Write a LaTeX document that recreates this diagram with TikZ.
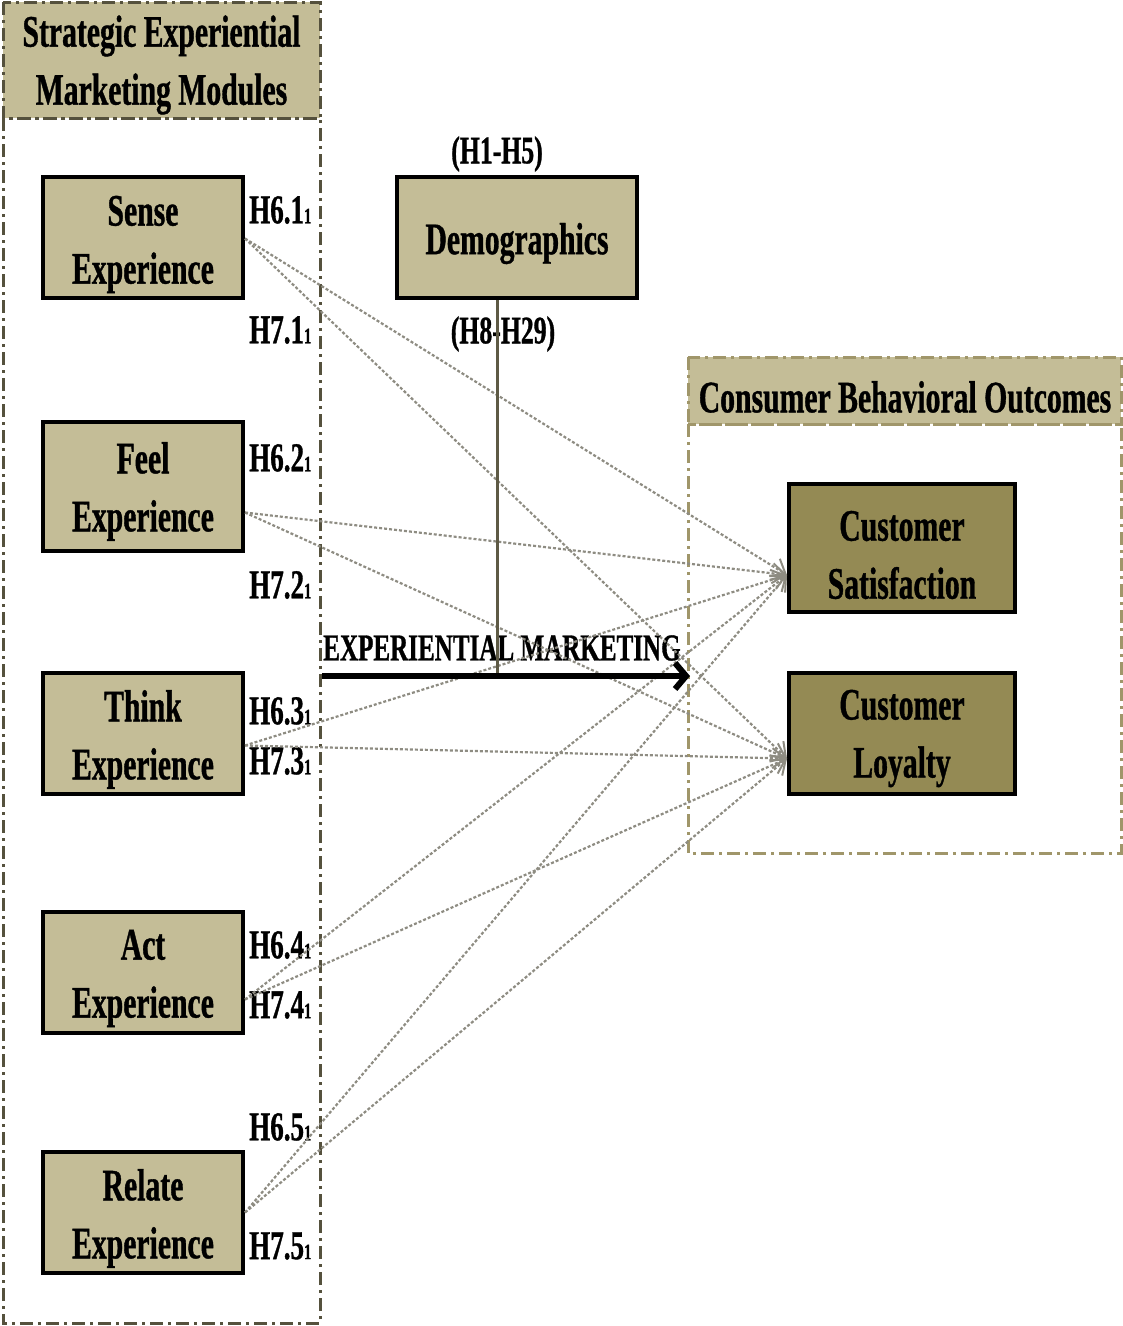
\documentclass[tikz,border=0pt]{standalone}
\usepackage{fontspec}
\setmainfont{Liberation Serif}[FakeStretch=0.66, BoldFeatures={FakeBold=0.8}]
\usetikzlibrary{arrows.meta}
\definecolor{tanfill}{HTML}{C4BD97}
\definecolor{olivefill}{HTML}{948A54}
\definecolor{leftframe}{HTML}{55513D}
\definecolor{rightframe}{HTML}{A0966A}
\definecolor{linkgray}{HTML}{8E8C82}
\definecolor{demoline}{HTML}{5E5A45}
\newcommand\diagboxfont{\fontsize{45}{58}\selectfont\bfseries}
\newcommand\diaglabfont{\fontsize{41}{44}\selectfont\bfseries}
\newcommand\diagsubfont{\fontsize{22}{24}\selectfont\bfseries}
\begin{document}
\begin{tikzpicture}[x=1pt,y=-1pt,
  dashdot/.style={line width=3pt, dash pattern=on 13pt off 5pt on 3pt off 5pt},
  modulebox/.style={draw=black, line width=4pt, fill=tanfill, minimum width=200pt,
    minimum height=121pt, inner sep=0pt},
  outcomebox/.style={modulebox, fill=olivefill, minimum width=226pt},
  boxtext/.style={inner sep=0pt, align=center, font=\diagboxfont},
  hlab/.style={anchor=west, inner sep=0pt, font=\diaglabfont},
  grouptitle/.style={inner sep=0pt, align=center, font=\diagboxfont},
  link/.style={draw=linkgray, line width=2.2pt, dash pattern=on 3pt off 2pt,
    -{Straight Barb[length=13pt,width=20pt,line width=2pt]}}
]
\useasboundingbox (0,0) rectangle (1123,1326);

% strategic experiential marketing modules group
\draw[dashdot, draw=leftframe, fill=tanfill] (3,2) rectangle (320,118);
\draw[dashdot, draw=leftframe] (3,118) rectangle (320,1323);
\node[grouptitle] (semm) at (161.5,65) {Strategic Experiential\\Marketing Modules};

% consumer behavioral outcomes group
\draw[dashdot, draw=rightframe, fill=tanfill] (688,357) rectangle (1121,424);
\draw[dashdot, draw=rightframe] (688,424) rectangle (1121,853);
\node[grouptitle] (cbo) at (905,397) {Consumer Behavioral Outcomes};

% modules
\node[modulebox] (sense)  at (143,237.5)  {};
\node[modulebox, minimum height=129pt] (feel) at (143,486.5) {};
\node[modulebox] (think)  at (143,733.5)  {};
\node[modulebox] (act)    at (143,972.5)  {};
\node[modulebox] (relate) at (143,1212.5) {};
\node[boxtext] (sense-t)  at ([yshift=-7pt]sense)  {Sense\\Experience};
\node[boxtext] (feel-t)   at ([yshift=-5pt]feel)   {Feel\\Experience};
\node[boxtext] (think-t)  at ([yshift=-6pt]think)  {Think\\Experience};
\node[boxtext] (act-t)    at ([yshift=-6pt]act)    {Act\\Experience};
\node[boxtext] (relate-t) at ([yshift=-6pt]relate) {Relate\\Experience};

% outcomes
\node[outcomebox, minimum height=128pt] (sat) at (902,548) {};
\node[outcomebox] (loy) at (902,733.5) {};
\node[boxtext] (sat-t) at ([yshift=-7pt]sat) {Customer\\Satisfaction};
\node[boxtext] (loy-t) at ([yshift=-5pt]loy) {Customer\\Loyalty};

% demographics
\node[modulebox, minimum width=240pt] (demo) at (517,237.5) {};
\node[boxtext] (demo-t) at ([yshift=-6pt]demo) {Demographics};
\node[inner sep=0pt, font=\fontsize{39}{42}\selectfont\bfseries] (h15) at (497,154) {(H1-H5)};
\node[inner sep=0pt, font=\fontsize{39}{42}\selectfont\bfseries] (h829) at (503,334) {(H8-H29)};

% hypothesis labels
\node[hlab] (h61) at (249,210)  {H6.1{\diagsubfont 1}};
\node[hlab] (h71) at (249,330)  {H7.1{\diagsubfont 1}};
\node[hlab] (h62) at (249,458)  {H6.2{\diagsubfont 1}};
\node[hlab] (h72) at (249,585)  {H7.2{\diagsubfont 1}};
\node[hlab] (h63) at (249,711)  {H6.3{\diagsubfont 1}};
\node[hlab] (h73) at (249,761)  {H7.3{\diagsubfont 1}};
\node[hlab] (h64) at (249,945)  {H6.4{\diagsubfont 1}};
\node[hlab] (h74) at (249,1005) {H7.4{\diagsubfont 1}};
\node[hlab] (h65) at (249,1127) {H6.5{\diagsubfont 1}};
\node[hlab] (h75) at (249,1246) {H7.5{\diagsubfont 1}};

% experiential marketing main arrow
\coordinate (emstart) at (322,676);
\coordinate (emend) at (690,676);
\node[inner sep=0pt, font=\fontsize{38}{40}\selectfont\bfseries] (emlabel) at (502,648) {EXPERIENTIAL MARKETING};

% links from modules to outcomes
\draw[link] ([yshift=-1pt]sense.east)  -- ([yshift=-27pt]sat.west);
\draw[link] ([yshift=-1pt]sense.east)  -- ([yshift=-25pt]loy.west);
\draw[link] ([yshift=-26pt]feel.east)  -- ([yshift=-27pt]sat.west);
\draw[link] ([yshift=-26pt]feel.east)  -- ([yshift=-25pt]loy.west);
\draw[link] ([yshift=-12pt]think.east) -- ([yshift=-27pt]sat.west);
\draw[link] ([yshift=-12pt]think.east) -- ([yshift=-25pt]loy.west);
\draw[link] ([yshift=-27pt]act.east)   -- ([yshift=-27pt]sat.west);
\draw[link] ([yshift=-27pt]act.east)   -- ([yshift=-25pt]loy.west);
\draw[link] (relate.east) -- ([yshift=-27pt]sat.west);
\draw[link] (relate.east) -- ([yshift=-25pt]loy.west);

% demographics moderating line
\coordinate (dtop) at ([xshift=-20pt]demo.south);
\draw[demoline, line width=3pt] (dtop) -- (dtop |- emstart);

\draw[line width=6pt, -{Straight Barb[length=11pt,width=26pt,line width=6pt]}] (emstart) -- (emend);
\end{tikzpicture}
\end{document}
